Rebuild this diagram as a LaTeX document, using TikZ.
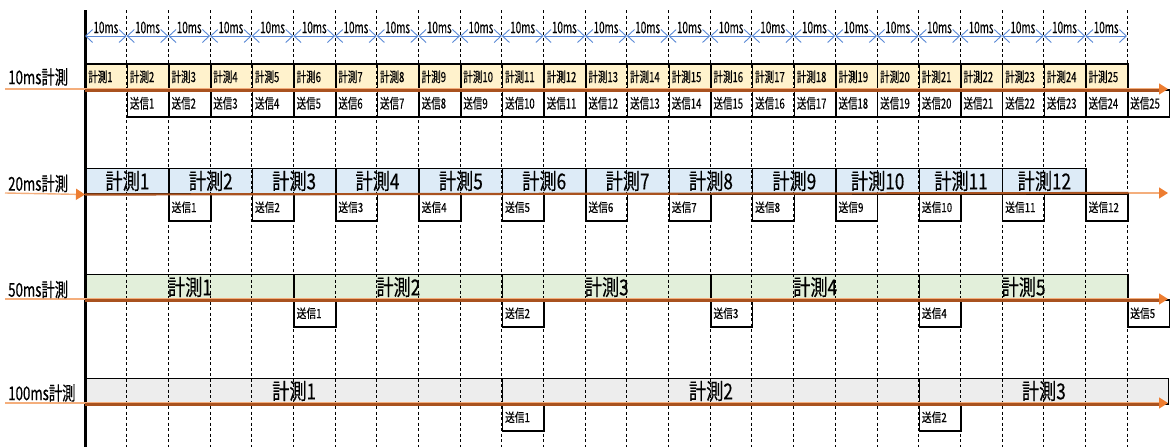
\documentclass[tikz,border=0pt]{standalone}
\usepackage{fontspec}
\setmainfont[FakeStretch=0.7,FakeBold=0.4]{Noto Sans CJK JP}
\newfontfamily\jpA[FakeStretch=0.68,FakeBold=0.3]{Noto Sans CJK JP}
\newfontfamily\jpB[FakeStretch=0.78,FakeBold=0.3]{Noto Sans CJK JP}
\newfontfamily\jpC[FakeStretch=0.62,FakeBold=0.3]{Noto Sans CJK JP}
\usetikzlibrary{arrows.meta,calc}
\definecolor{yel}{HTML}{FFF2CC}
\definecolor{blu}{HTML}{DDEBF7}
\definecolor{grn}{HTML}{E2EFDA}
\definecolor{gry}{HTML}{EDEDED}
\definecolor{tblue}{HTML}{5A89D6}
\definecolor{lorange}{HTML}{F4AE7C}
\definecolor{brownl}{HTML}{A9521F}
\definecolor{orangeh}{HTML}{ED7D31}
\begin{document}
\begin{tikzpicture}[x=1pt,y=-1pt,
  box/.style={draw=black, line width=1.5pt, anchor=north west, inner ysep=0pt, inner xsep=2.5pt},
  smallbox/.style={box, align=left, text width=36.68pt, minimum width=41.68pt, minimum height=#1},
  bigbox/.style={box, align=center, minimum height=25.5pt},
  tinyA/.style={font=\jpA\fontsize{14}{14}\selectfont},
  tinyB/.style={font=\jpB\fontsize{12.5}{12.5}\selectfont},
  bigT/.style={font=\jpB\fontsize{22}{22}\selectfont},
  rowlab/.style={anchor=west, inner sep=0pt, font=\fontsize{19}{19}\selectfont},
  toplab/.style={inner sep=0pt, font=\jpC\fontsize{16}{16}\selectfont},
  tarrow/.style={draw=tblue, line width=0.9pt, {Straight Barb[length=7pt,width=13pt]}-{Straight Barb[length=7pt,width=13pt]}},
  grid/.style={draw=black, line width=0.8pt, dash pattern=on 3pt off 2.5pt},
  tline/.style={draw=lorange, line width=1.4pt, -{Triangle[length=9pt,width=11pt,color=orangeh,fill=orangeh]}},
  bline/.style={draw=brownl, line width=2.2pt}
]
\useasboundingbox (0,0) rectangle (1170,447);
\fill[white] (0,0) rectangle (1170,447);

% ---- row 1 : 10ms
\foreach \k in {1,...,25} {
  \pgfmathsetmacro\xa{85+41.68*(\k-1)}
  \pgfmathsetmacro\xb{85+41.68*\k}
  \node[smallbox=26pt, fill=yel, tinyA] (m10-\k) at (\xa,63) {計測\k};
  \node[smallbox=27pt, fill=white, tinyA] (s10-\k) at (\xb,89) {送信\k};
}
% ---- row 2 : 20ms
\foreach \k in {1,...,12} {
  \pgfmathsetmacro\xa{85+83.36*(\k-1)}
  \pgfmathsetmacro\xb{85+83.36*\k}
  \node[bigbox, minimum width=83.36pt, fill=blu, bigT] (m20-\k) at (\xa,167.5) {計測\k};
  \node[smallbox=27pt, fill=white, tinyB] (s20-\k) at (\xb,193) {送信\k};
}
% ---- row 3 : 50ms
\foreach \k in {1,...,5} {
  \pgfmathsetmacro\xa{85+208.4*(\k-1)}
  \pgfmathsetmacro\xb{85+208.4*\k}
  \node[bigbox, minimum width=208.4pt, fill=grn, bigT] (m50-\k) at (\xa,273.5) {計測\k};
  \node[smallbox=27pt, fill=white, tinyB] (s50-\k) at (\xb,299) {送信\k};
}
% ---- row 4 : 100ms
\node[bigbox, minimum width=416.8pt, fill=gry, bigT] (m100-1) at (85,377.5) {計測1};
\node[bigbox, minimum width=416.8pt, fill=gry, bigT] (m100-2) at (501.8,377.5) {計測2};
\node[bigbox, minimum width=249pt, fill=gry, bigT] (m100-3) at (918.6,377.5) {計測3};
\node[smallbox=27pt, fill=white, tinyB] (s100-1) at (501.8,403) {送信1};
\node[smallbox=27pt, fill=white, tinyB] (s100-2) at (918.6,403) {送信2};

% ---- grid
\foreach \k in {1,...,25} {
  \pgfmathsetmacro\xa{85+41.68*\k}
  \draw[grid] (\xa,10) -- (\xa,447);
}
\draw[black, line width=3pt] (85,10) -- (85,447);

% ---- top time arrows
\foreach \k in {0,...,25} {
  \pgfmathsetmacro\xa{85+41.68*\k}
  \coordinate (t\k) at (\xa,36);
}
\foreach \k [evaluate=\k as \n using int(\k+1)] in {0,...,24} {
  \draw[tarrow] (t\k) -- (t\n);
  \node[toplab] (lab\k) at ($(t\k)!0.5!(t\n)+(0,-8.5)$) {10ms};
}

% ---- time lines
\coordinate (a1) at (5,89);    \coordinate (b1) at (1168,89);
\coordinate (a2) at (5,193);   \coordinate (b2) at (1168,193);
\coordinate (a3) at (5,299);   \coordinate (b3) at (1168,299);
\coordinate (a4) at (5,403);   \coordinate (b4) at (1168,403);
\draw[tline] (a1) -- (b1);
\draw[tline] (a2) -- (m20-1.south west);
\draw[tline] (s20-12.north east) -- (b2);
\draw[tline] (a3) -- (b3);
\draw[tline] (a4) -- (b4);
\draw[bline] (m10-1.south west) -- ++(1074,0);
\draw[bline] (m20-1.south west) -- (s20-12.north east);
\draw[bline] (m50-1.south west) -- ++(1074,0);
\draw[bline] (m100-1.south west) -- ++(1074,0);

% ---- row labels
\node[rowlab] (r10) at (8,77) {10ms計測};
\node[rowlab] (r20) at (8,183.5) {20ms計測};
\node[rowlab] (r50) at (8,289.5) {50ms計測};
\node[rowlab] (r100) at (8,393) {100ms計測};
\end{tikzpicture}
\end{document}
